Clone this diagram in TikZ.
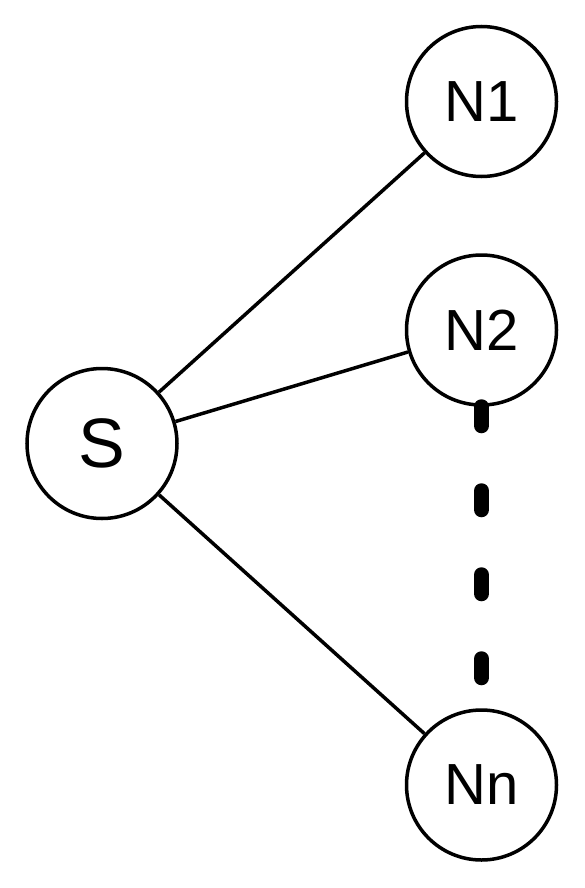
\documentclass[tikz,border=0pt]{standalone}
\usepackage{fontspec}
\setmainfont{Liberation Sans}
\begin{document}
\begin{tikzpicture}[x=1pt,y=-1pt,
        peer/.style={draw,circle,line width=3.5pt,minimum size=150pt,inner sep=0pt,font=\fontsize{58}{60}\selectfont},
        link/.style={line width=3.5pt}]
        \useasboundingbox (0,0) rectangle (585,888);
        \node[peer,font=\fontsize{70}{72}\selectfont] (s) at (102,443.5) {S};
        \node[peer] (n1) at (481.5,101.5) {N1};
        \node[peer] (n2) at (481.5,330) {N2};
        \node[peer] (nn) at (481.5,785) {Nn};
        \draw[link] (s) -- (n1);
        \draw[link] (s) -- (n2);
        \draw[link] (s) -- (nn);
        \draw[line width=15pt, line cap=round, dash pattern=on 19pt off 65pt, shorten >=30.5pt] (n2.south) -- (nn.north);
    \end{tikzpicture}
\end{document}
